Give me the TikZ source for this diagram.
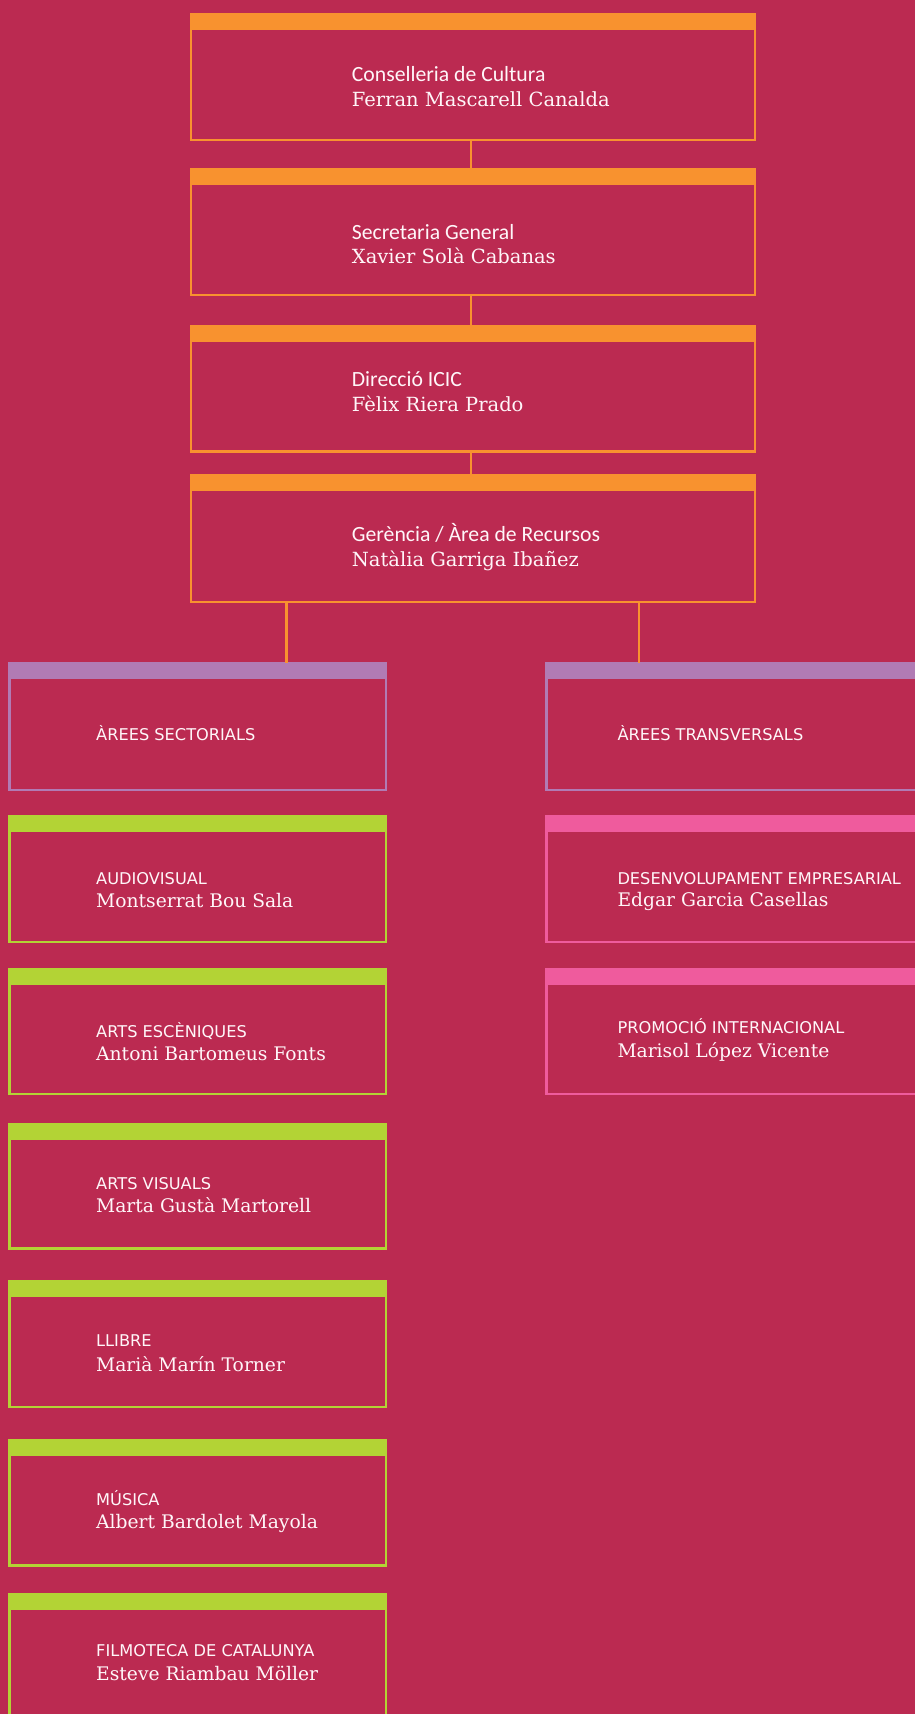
\documentclass[tikz,border=0pt]{standalone}
\usepackage{fontspec}
\newfontfamily\titlefont{Carlito}
\newfontfamily\capsfont{DejaVu Sans}
\newfontfamily\namefont{DejaVu Serif}
\definecolor{bgc}{RGB}{187,42,81}
\definecolor{orng}{RGB}{248,146,47}
\definecolor{lilac}{RGB}{177,123,180}
\definecolor{lime}{RGB}{179,211,53}
\definecolor{pinkc}{RGB}{239,91,157}
\definecolor{txt}{RGB}{255,246,249}
\tikzset{
  obox/.style={draw=#1, line width=2.5pt, inner sep=0pt, outer sep=0pt, anchor=north west,
    path picture={\fill[#1] (path picture bounding box.north west) rectangle ([yshift=-15.75pt]path picture bounding box.north east);}},
  ttllab/.style={anchor=base west, inner sep=0pt, text=txt, font=\titlefont\fontsize{21.7}{26}\selectfont},
  caplab/.style={anchor=base west, inner sep=0pt, text=txt, font=\capsfont\fontsize{16.2}{20}\selectfont},
  nmtop/.style={anchor=base west, inner sep=0pt, text=txt, font=\namefont\fontsize{19.5}{24}\selectfont},
  nmlab/.style={anchor=base west, inner sep=0pt, text=txt, font=\namefont\fontsize{18.7}{23}\selectfont},
  connline/.style={draw=orng, line width=2.3pt}
}
\newcommand\obx[6]{\node[obox=#6, minimum width={(#4-#2-2.5)*1pt}, minimum height={(#5-#3-2.5)*1pt}] (#1) at (#2+1.25,#3+1.25) {};}
\begin{document}
\begin{tikzpicture}[x=1pt,y=-1pt]
\useasboundingbox (0,0) rectangle (915,1714);
\fill[bgc] (0,0) rectangle (915,1714);
% top chain
\obx{b1}{189.5}{13}{756}{141}{orng}
\obx{b2}{189.5}{167.7}{756}{296.3}{orng}
\obx{b3}{189.5}{324.7}{756}{452.6}{orng}
\obx{b4}{189.5}{474}{756}{603.3}{orng}
% left column
\obx{sec}{8}{662}{387}{791}{lilac}
\obx{aud}{8}{815}{387}{943}{lime}
\obx{esc}{8}{967.5}{387}{1095.4}{lime}
\obx{vis}{8}{1122.7}{387}{1249.5}{lime}
\obx{lli}{8}{1280}{387}{1408}{lime}
\obx{mus}{8}{1438.7}{387}{1566.7}{lime}
\obx{fil}{8}{1593.3}{387}{1724}{lime}
% right column
\obx{tra}{545}{662}{930}{791}{lilac}
\obx{des}{545}{815}{930}{943.3}{pinkc}
\obx{pro}{545}{967.7}{930}{1095.3}{pinkc}
% connectors
\coordinate (jm) at (471,0);
\coordinate (jl) at (286.5,0);
\coordinate (jr) at (638.7,0);
\draw[connline] (b1.south -| jm) -- (b2.north -| jm);
\draw[connline] (b2.south -| jm) -- (b3.north -| jm);
\draw[connline] (b3.south -| jm) -- (b4.north -| jm);
\draw[connline] (b4.south -| jl) -- (sec.north -| jl);
\draw[connline] (b4.south -| jr) -- (tra.north -| jr);
% texts
\node[ttllab] (b1a) at (351.7,81.7) {Conselleria de Cultura};
\node[nmtop] (b1b) at (351.7,106.7) {Ferran Mascarell Canalda};
\node[ttllab] (b2a) at (351.7,239) {Secretaria General};
\node[nmtop] (b2b) at (351.7,263) {Xavier Solà Cabanas};
\node[ttllab] (b3a) at (351.7,386.7) {Direcció ICIC};
\node[nmtop] (b3b) at (351.7,411.7) {Fèlix Riera Prado};
\node[ttllab] (b4a) at (351.7,541.7) {Gerència / Àrea de Recursos};
\node[nmtop] (b4b) at (351.7,566) {Natàlia Garriga Ibañez};
\node[caplab] (seca) at (96,740.7) {ÀREES SECTORIALS};
\node[caplab] (auda) at (96,884) {AUDIOVISUAL};
\node[nmlab] (audb) at (96,907.7) {Montserrat Bou Sala};
\node[caplab] (esca) at (96,1037) {ARTS ESCÈNIQUES};
\node[nmlab] (escb) at (96,1060) {Antoni Bartomeus Fonts};
\node[caplab] (visa) at (96,1189) {ARTS VISUALS};
\node[nmlab] (visb) at (96,1212) {Marta Gustà Martorell};
\node[caplab] (llia) at (96,1346.7) {LLIBRE};
\node[nmlab] (llib) at (96,1371.7) {Marià Marín Torner};
\node[caplab] (musa) at (96,1505) {MÚSICA};
\node[nmlab] (musb) at (96,1528.3) {Albert Bardolet Mayola};
\node[caplab] (fila) at (96,1656.7) {FILMOTECA DE CATALUNYA};
\node[nmlab] (filb) at (96,1680) {Esteve Riambau Möller};
\node[caplab] (traa) at (617.3,740.7) {ÀREES TRANSVERSALS};
\node[caplab] (desa) at (617.3,884.3) {DESENVOLUPAMENT EMPRESARIAL};
\node[nmlab] (desb) at (617.3,906.7) {Edgar Garcia Casellas};
\node[caplab] (proa) at (617.3,1033.3) {PROMOCIÓ INTERNACIONAL};
\node[nmlab] (prob) at (617.3,1057.3) {Marisol López Vicente};
\end{tikzpicture}
\end{document}
